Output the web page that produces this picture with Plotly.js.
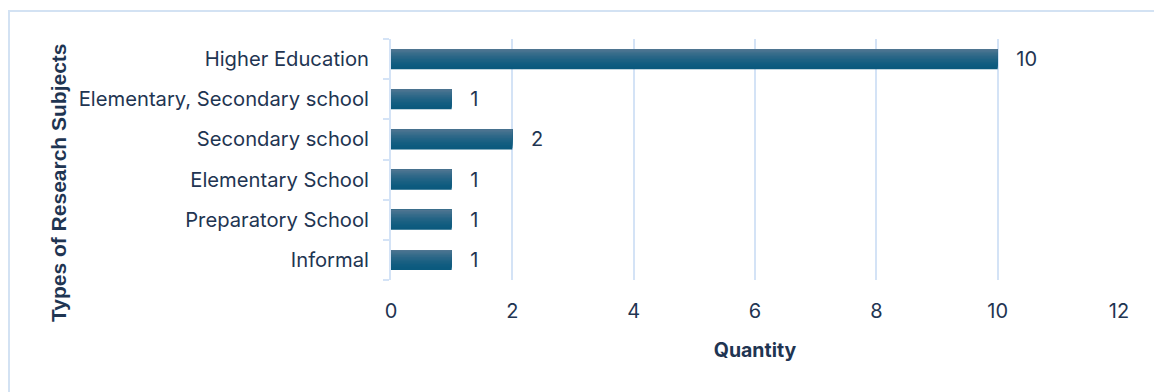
<!DOCTYPE html>
<html><head><meta charset="utf-8">
<script src="https://cdn.plot.ly/plotly-3.0.1.min.js"></script>
<style>
html,body{margin:0;padding:0;background:#fff;}
#frame{position:absolute;left:8px;top:10px;width:1160px;height:400px;border:2px solid #d3e2f3;box-sizing:border-box;pointer-events:none;z-index:5;}
#chart{position:absolute;left:0;top:0;width:1154px;height:392px;}
</style></head>
<body>
<div id="chart"></div>
<div id="frame"></div>
<script>
const categories = ["Higher Education","Elementary, Secondary school","Secondary school","Elementary School","Preparatory School","Informal"];
const quantities = [10,1,2,1,1,1];
const xTicks = [0,2,4,6,8,10,12];

const cats = categories.slice().reverse();
const vals = quantities.slice().reverse();
const textColor = "#1f3552";
const FONT = "Inter, 'Noto Sans', sans-serif";

// vertical gradient on bars: overlapping bands from bottom (dark) to top (light)
const bottomRGB = [11, 90, 126], topRGB = [78, 117, 145];
const nBands = 14, barW = 0.5;
const traces = [];
for (let i = 0; i < nBands; i++) {
  const t = i / (nBands - 1);
  const tt = Math.pow(t, 1.6);
  const c = bottomRGB.map((b, k) => Math.round(b + (topRGB[k] - b) * tt));
  traces.push({
    type: "bar", orientation: "h",
    y: cats, x: vals,
    width: barW - i * barW / nBands,
    offset: -barW / 2 + i * barW / nBands,
    marker: {color: `rgb(${c.join(",")})`, line: {width: 0}},
    hoverinfo: "none", showlegend: false
  });
}
traces.push({
  type: "bar", orientation: "h",
  y: cats, x: vals,
  width: barW, offset: -barW / 2,
  marker: {color: "rgba(0,0,0,0)", line: {width: 0}},
  text: vals.map(v => "\u2002 " + v),
  textposition: "outside",
  constraintext: "none",
  cliponaxis: false,
  textfont: {family: FONT, size: 20, color: textColor},
  hoverinfo: "none", showlegend: false
});

const layout = {
  width: 1154, height: 392,
  margin: {l: 391, r: 35, t: 39, b: 112},
  paper_bgcolor: "#ffffff", plot_bgcolor: "#ffffff",
  showlegend: false,
  barmode: "overlay",
  xaxis: {
    range: [0, 12], tickvals: xTicks, ticktext: xTicks.map(String),
    showgrid: true, gridcolor: "#d4e3f6", gridwidth: 2,
    zeroline: false, showline: false, ticks: "",
    ticklabelstandoff: 17,
    tickfont: {family: FONT, size: 20, color: textColor},
    title: {text: "Quantity", font: {family: FONT, size: 19.5, color: textColor, weight: "bold"}, standoff: 21}
  },
  yaxis: {
    type: "category", categoryorder: "array", categoryarray: cats,
    showline: true, linecolor: "#d4e3f6", linewidth: 2,
    ticks: "outside", tickson: "boundaries", ticklen: 6, tickcolor: "#d4e3f6", tickwidth: 2,
    showgrid: false,
    tickfont: {family: FONT, size: 20.2, color: textColor},
    ticklabelstandoff: 16
  },
  annotations: [{
    text: "<b>Types of Research Subjects</b>",
    xref: "paper", yref: "paper",
    x: (58 - 391) / (1154 - 391 - 35), y: 1 - (183 - 39) / (392 - 39 - 112),
    xanchor: "center", yanchor: "middle", textangle: -90, showarrow: false,
    font: {family: "'Liberation Sans', Arial, sans-serif", size: 21, color: textColor}
  }]
};

Plotly.newPlot("chart", traces, layout, {displayModeBar: false, staticPlot: true});
</script>
</body></html>
